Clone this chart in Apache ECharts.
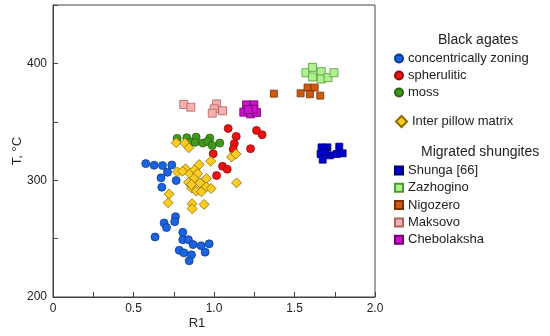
<!DOCTYPE html>
<html><head><meta charset="utf-8">
<script src="https://cdn.jsdelivr.net/npm/echarts@6/dist/echarts.min.js"></script>
<style>html,body{margin:0;padding:0;background:#fff}#c{width:550px;height:336px}</style>
</head><body><div id="c"></div>
<script>
var xTicks = ['0', '0.5', '1.0', '1.5', '2.0'];
var yTicks = ['200', '300', '400'];
var concentric = [[0.576,314.2],[0.628,312.8],[0.680,312.5],[0.738,313],[0.711,306.8],[0.671,302],[0.765,299.7],[0.676,294],[0.761,268.8],[0.756,264.5],[0.690,263.4],[0.705,259.4],[0.634,251.4],[0.806,255.4],[0.806,249.1],[0.841,249.1],[0.870,244.9],[0.920,243.8],[0.970,245.5],[0.784,240],[0.813,237.8],[0.860,236.1],[0.945,238.4],[0.846,231]];
var spherulitic = [[1.088,344.3],[1.138,337.5],[1.126,331.3],[1.119,326.5],[0.995,322.7],[1.053,311.9],[1.082,309.4],[1.016,304],[1.264,342.6],[1.299,338.9],[1.227,327]];
var moss = [[0.771,335.8],[0.831,336.4],[0.889,336.9],[0.974,336.1],[0.850,332.7],[0.883,332.4],[0.931,331.8],[0.960,333.2],[0.989,329.8],[1.036,331.8]];
var pillow = [[0.773,307.1],[0.823,309.7],[0.850,305.7],[0.881,309.1],[0.908,313.4],[0.899,305.7],[0.875,301.4],[0.841,298],[0.912,297.7],[0.953,301.4],[0.862,293.2],[0.891,290.6],[0.922,290.1],[0.953,294.3],[0.982,292.9],[0.721,288.1],[0.715,280.7],[0.864,279.8],[0.864,275.6],[0.939,279.3],[0.980,316.2],[1.140,297.7],[1.109,319.9],[1.136,322.4],[0.765,332.1],[0.819,331.8],[0.844,327.8],[0.804,307.7],[0.860,296.3]];
var shunga = [[1.668,328.1],[1.704,328.1],[1.778,328.7],[1.662,322.4],[1.720,321.3],[1.762,322.4],[1.799,323],[1.675,317.6],[1.690,324]];
var zazhogino = [[1.571,392],[1.612,396.6],[1.612,388.4],[1.666,392.9],[1.666,386.6],[1.708,387.8],[1.745,392]];
var nigozero = [[1.581,379.3],[1.625,379.3],[1.538,374.4],[1.596,373.6],[1.660,372.4],[1.372,374.1]];
var maksovo = [[0.812,364.8],[0.856,362.5],[1.016,365.3],[1.001,361.1],[0.989,357.4],[1.053,359.4]];
var chebolaksha = [[1.202,364.5],[1.248,364.5],[1.185,358.2],[1.227,356.8],[1.264,358],[1.244,360.8],[1.212,360.5]];

var FONT = '"Liberation Sans", Arial, sans-serif';
function sc(name, data, symbol, size, color, border) {
  return {name: name, type: 'scatter', data: data, symbol: symbol, symbolSize: size,
    itemStyle: {color: color, borderColor: border, borderWidth: 0.8, opacity: 1},
    emphasis: {disabled: true}};
}
var legText = {fontSize: 13, color: '#222', fontFamily: FONT, lineHeight: 13};
var chart = echarts.init(document.getElementById('c'), null, {renderer: 'canvas'});
chart.setOption({
  animation: false,
  grid: {left: 53, right: 175, top: 5, bottom: 39, containLabel: false, outerBoundsMode: 'none',
    show: true, borderColor: '#444', borderWidth: 1, backgroundColor: 'transparent'},
  xAxis: {type: 'value', min: 0, max: 2, interval: 0.25, name: 'R1', nameLocation: 'middle', nameGap: 20,
    nameMoveOverlap: false,
    nameTextStyle: {fontSize: 13, color: '#222', fontFamily: FONT, padding: [0, 34, 0, 0]},
    axisLine: {lineStyle: {color: '#444'}}, splitLine: {show: false},
    axisTick: {inside: true, length: 5, lineStyle: {color: '#444'}},
    axisLabel: {fontSize: 12, color: '#222', fontFamily: FONT, margin: 6, hideOverlap: false,
      formatter: function (v) { var i = Math.round(v / 0.5); return Math.abs(v - i * 0.5) < 1e-6 ? xTicks[i] : ''; }}},
  yAxis: {type: 'value', min: 200, max: 450, interval: 50, name: 'T, \u00b0C', nameLocation: 'middle', nameGap: 29,
    nameMoveOverlap: false,
    nameTextStyle: {fontSize: 13, color: '#222', fontFamily: FONT},
    axisLine: {lineStyle: {color: '#444'}}, splitLine: {show: false},
    axisTick: {inside: true, length: 5, lineStyle: {color: '#444'}},
    axisLabel: {fontSize: 12, color: '#222', fontFamily: FONT, margin: 6, hideOverlap: false,
      formatter: function (v) { var s = String(v); return yTicks.indexOf(s) >= 0 ? s : ''; }}},
  legend: [
    {orient: 'vertical', left: 394, top: 52, padding: 0, itemGap: 4, itemWidth: 8, itemHeight: 8, textStyle: legText,
      data: ['concentrically zoning', 'spherulitic', 'moss'], selectedMode: false},
    {orient: 'vertical', left: 395, top: 115, padding: 0, itemGap: 4, itemWidth: 11, itemHeight: 11, textStyle: legText,
      data: ['Inter pillow matrix'], selectedMode: false},
    {orient: 'vertical', left: 394, top: 164, padding: 0, itemGap: 4.3, itemWidth: 8, itemHeight: 8, textStyle: legText,
      data: ['Shunga [66]', 'Zazhogino', 'Nigozero', 'Maksovo', 'Chebolaksha'], selectedMode: false}
  ],
  graphic: [
    {type: 'text', left: 438, top: 33, style: {text: 'Black agates', fontSize: 14, fill: '#222', fontFamily: FONT}},
    {type: 'text', left: 421, top: 145, style: {text: 'Migrated shungites', fontSize: 14, fill: '#222', fontFamily: FONT}}
  ],
  series: [
    sc('concentrically zoning', concentric, 'circle', 8, '#1a64e0', '#0a3a90'),
    sc('spherulitic', spherulitic, 'circle', 8, '#ee1111', '#901010'),
    sc('moss', moss, 'circle', 8, '#3f9a1a', '#2a6010'),
    sc('Inter pillow matrix', pillow, 'diamond', 10, '#ffcc22', '#8a6a00'),
    sc('Shunga [66]', shunga, 'rect', 7, '#0000cc', '#000070'),
    sc('Zazhogino', zazhogino, 'rect', 8, '#b0f090', '#4a9a30'),
    sc('Nigozero', nigozero, 'rect', 7, '#cc5a10', '#803000'),
    sc('Maksovo', maksovo, 'rect', 8, '#f5b0b0', '#b06060'),
    sc('Chebolaksha', chebolaksha, 'rect', 8, '#cc10cc', '#700070')
  ]
});
</script></body></html>
